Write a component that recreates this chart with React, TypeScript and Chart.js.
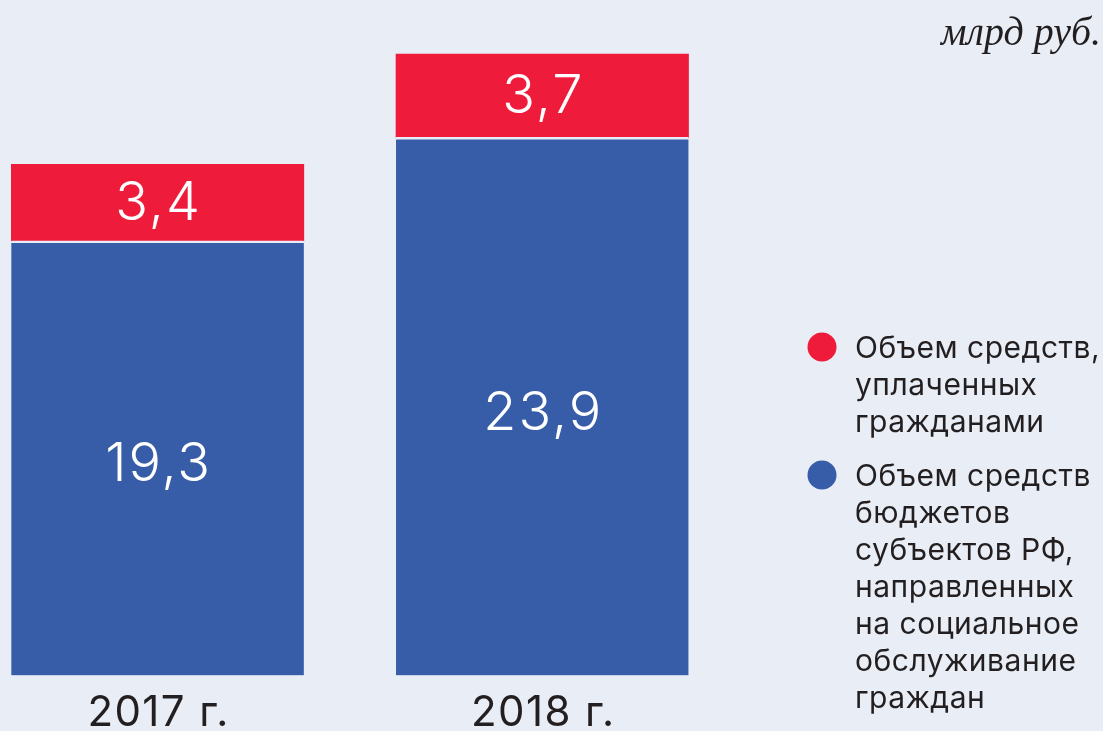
import React, { useEffect, useRef } from "react";
import { Chart, registerables } from "chart.js";

Chart.register(...registerables);

const categories = ["2017 г.", "2018 г."];
const budgetValues = [19.3, 23.9];
const citizenValues = [3.4, 3.7];
const unitLabel = "млрд руб.";
const citizenLegend = ["Объем средств,", "уплаченных", "гражданами"];
const budgetLegend = [
  "Объем средств",
  "бюджетов",
  "субъектов РФ,",
  "направленных",
  "на социальное",
  "обслуживание",
  "граждан",
];

const BG = "#e9eef6";
const RED = "#ef1b3b";
const BLUE = "#375ca8";
const TEXT = "#231f20";

const fmt = (v: number) => v.toFixed(1).replace(".", ",");

const decorPlugin = {
  id: "decor",
  beforeDraw(chart: any) {
    const { ctx, width, height } = chart;
    ctx.save();
    ctx.fillStyle = BG;
    ctx.fillRect(0, 0, width, height);
    ctx.restore();
  },
  afterDatasetsDraw(chart: any) {
    const { ctx } = chart;
    ctx.save();
    // value labels
    chart.data.datasets.forEach((ds: any, di: number) => {
      const meta = chart.getDatasetMeta(di);
      meta.data.forEach((el: any, i: number) => {
        const v = ds.data[i].y;
        const cy = (el.y + el.base) / 2;
        ctx.fillStyle = "#ffffff";
        ctx.font = "300 54px Inter";
        (ctx as any).letterSpacing = "2px";
        ctx.textAlign = "center";
        ctx.textBaseline = "middle";
        ctx.fillText(fmt(v), el.x + 1, cy + (di === 0 ? 7 : 1));
      });
    });
    // category labels
    const xs = chart.scales.x;
    ctx.fillStyle = TEXT;
    ctx.font = "400 42px Inter";
    (ctx as any).letterSpacing = "1.4px";
    ctx.textAlign = "center";
    ctx.textBaseline = "middle";
    categories.forEach((c, i) => {
      ctx.fillText(c, xs.getPixelForValue(i) + 1, 713);
    });
    // unit label
    (ctx as any).letterSpacing = "0px";
    ctx.font = "italic 40px 'Liberation Serif'";
    ctx.textAlign = "right";
    ctx.fillText(unitLabel, 1101, 34);
    // legend
    const drawItem = (color: string, lines: string[], y0: number) => {
      ctx.fillStyle = color;
      ctx.beginPath();
      ctx.arc(822, y0 - 2, 14.5, 0, Math.PI * 2);
      ctx.fill();
      ctx.fillStyle = TEXT;
      ctx.font = "400 30px Inter";
      (ctx as any).letterSpacing = "0.5px";
      ctx.textAlign = "left";
      ctx.textBaseline = "middle";
      lines.forEach((l, k) => ctx.fillText(l, 855, y0 + k * 37));
    };
    drawItem(RED, citizenLegend, 349);
    drawItem(BLUE, budgetLegend, 477);
    ctx.restore();
  },
};

export default function App() {
  const ref = useRef<HTMLCanvasElement | null>(null);
  useEffect(() => {
    document.body.style.margin = "0";
    document.body.style.background = BG;
    const chart = new Chart(ref.current as HTMLCanvasElement, {
      type: "bar",
      data: {
        datasets: [
          {
            label: budgetLegend.join(" "),
            data: budgetValues.map((v, i) => ({ x: i, y: v })),
            backgroundColor: BLUE,
            borderColor: BG,
            borderWidth: { top: 2.5, left: 0, right: 0, bottom: 0 },
            borderSkipped: false,
            barThickness: 292.5,
          },
          {
            label: citizenLegend.join(" "),
            data: citizenValues.map((v, i) => ({ x: i, y: v })),
            backgroundColor: RED,
            borderWidth: 0,
            barThickness: 292.5,
          },
        ],
      },
      options: {
        animation: false,
        responsive: true,
        maintainAspectRatio: false,
        layout: { padding: { left: 0, right: 403, top: 0, bottom: 55.5 } },
        plugins: { legend: { display: false }, tooltip: { enabled: false } },
        scales: {
          x: {
            type: "linear",
            stacked: true,
            display: false,
            min: -0.4096,
            max: 1.41,
            offset: false,
          },
          y: {
            stacked: true,
            display: false,
            min: 0,
            max: 30,
          },
        },
      },
      plugins: [decorPlugin],
    });
    return () => chart.destroy();
  }, []);
  return (
    <div style={{ position: "absolute", left: 0, top: 0, width: 1103, height: 731, background: BG }}>
      <canvas ref={ref} />
    </div>
  );
}
